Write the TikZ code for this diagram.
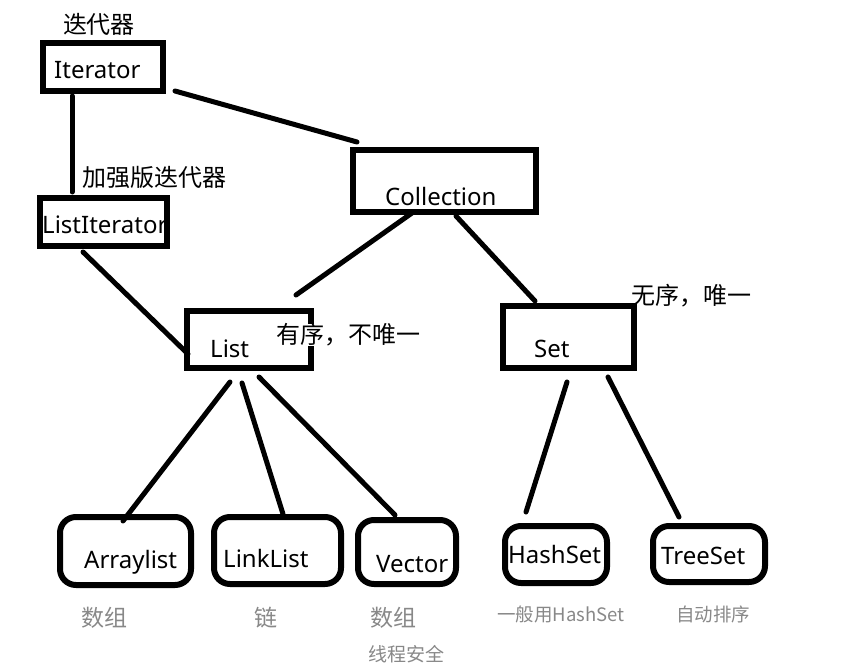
\documentclass[tikz,border=0pt]{standalone}
\usepackage{fontspec}
\setmainfont{Noto Sans}
\newfontfamily\cjk{Noto Sans CJK SC}
\definecolor{hintgray}{HTML}{888888}
\begin{document}
\begin{tikzpicture}[x=1pt,y=-1pt,
  sqbox/.style={draw,line width=6pt,inner sep=0pt,outer sep=0pt},
  rbox/.style={sqbox,rounded corners=16pt},
  wire/.style={line width=5pt,line cap=round},
  clsname/.style={font=\fontsize{24}{28}\selectfont,inner sep=0pt,anchor=base west},
  remark/.style={font=\cjk\fontsize{24}{28}\selectfont,inner sep=0pt},
  hint/.style={font=\cjk\fontsize{23}{26}\selectfont,text=hintgray,inner sep=0pt},
  small hint/.style={hint,font=\cjk\fontsize{18.5}{22}\selectfont}]
\useasboundingbox (0,0) rectangle (855,669);

% boxes
\node[sqbox,minimum width=120pt,minimum height=48pt] (iter) at (103,67) {};
\node[sqbox,minimum width=127pt,minimum height=48pt] (listiter) at (103.5,222) {};
\node[sqbox,minimum width=183pt,minimum height=62pt] (coll) at (444.5,181) {};
\node[sqbox,minimum width=124pt,minimum height=57pt] (list) at (249,339.5) {};
\node[sqbox,minimum width=131pt,minimum height=62pt] (set) at (568.5,337) {};
\node[rbox,minimum width=131pt,minimum height=68pt] (arr) at (125.5,551) {};
\node[rbox,minimum width=127pt,minimum height=67pt] (lnk) at (277.5,550.5) {};
\node[rbox,minimum width=98pt,minimum height=64pt] (vec) at (407,552) {};
\node[rbox,minimum width=102pt,minimum height=57pt] (hash) at (556,554.5) {};
\node[rbox,minimum width=112pt,minimum height=56pt] (tree) at (709,554) {};

% class names
\node[clsname] (iterT) at (54,79) {Iterator};
\node[clsname] (listiterT) at (42,233) {ListIterator};
\node[clsname] (collT) at (385,205) {Collection};
\node[clsname] (listT) at (210,357) {List};
\node[clsname] (setT) at (534,357) {Set};
\node[clsname] (arrT) at (84,568) {Arraylist};
\node[clsname] (lnkT) at (223,567) {LinkList};
\node[clsname] (vecT) at (376,572) {Vector};
\node[clsname] (hashT) at (508,563) {HashSet};
\node[clsname] (treeT) at (661,564) {TreeSet};

% remarks
\node[remark] (iterN) at (99,24) {迭代器};
\node[remark] (listiterN) at (154,177.5) {加强版迭代器};
\node[remark,fill=white] (listN) at (348,335) {有序，不唯一};
\node[remark] (setN) at (691,295.5) {无序，唯一};
\node[hint] (arrN) at (104,618) {数组};
\node[hint] (lnkN) at (265.5,618) {链};
\node[hint] (vecN) at (393,618) {数组};
\node[small hint,font=\cjk\fontsize{19}{22}\selectfont] (vecN2) at (406,654) {线程安全};
\node[small hint] (hashN) at (561,614) {一般用HashSet};
\node[small hint] (treeN) at (713,614) {自动排序};

% connector ends
\coordinate (iter-coll) at (175,91);
\coordinate (coll-iter) at (357,142);
\coordinate (iter-listiter) at (72,96);
\coordinate (listiter-iter) at (72,192);
\coordinate (listiter-list) at (83,252);
\coordinate (list-listiter) at (188,354);
\coordinate (coll-list) at (412,213);
\coordinate (list-coll) at (296,295);
\coordinate (coll-set) at (456,216);
\coordinate (set-coll) at (535,301);
\coordinate (list-arr) at (230,382);
\coordinate (arr-list) at (123,521);
\coordinate (list-lnk) at (242,383);
\coordinate (lnk-list) at (283,514);
\coordinate (list-vec) at (259,377);
\coordinate (vec-list) at (395,515);
\coordinate (set-hash) at (567,382);
\coordinate (hash-set) at (526,512);
\coordinate (set-tree) at (608,377);
\coordinate (tree-set) at (679,517);

% connectors
\draw[wire] (iter-coll) -- (coll-iter);
\draw[wire] (iter-listiter) -- (listiter-iter);
\draw[wire] (listiter-list) -- (list-listiter);
\draw[wire] (coll-list) -- (list-coll);
\draw[wire] (coll-set) -- (set-coll);
\draw[wire] (list-arr) -- (arr-list);
\draw[wire] (list-lnk) -- (lnk-list);
\draw[wire] (list-vec) -- (vec-list);
\draw[wire] (set-hash) -- (hash-set);
\draw[wire] (set-tree) -- (tree-set);
\end{tikzpicture}
\end{document}
